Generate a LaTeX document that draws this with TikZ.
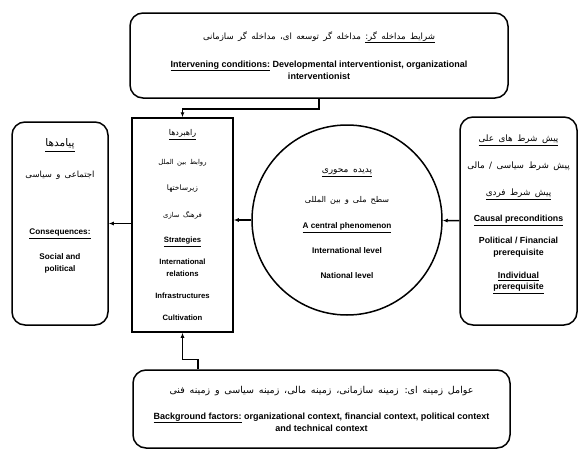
\documentclass[tikz,border=0pt]{standalone}
\usepackage{fontspec}
\setmainfont{Liberation Sans}
\newfontfamily\farsifont[Script=Arabic,WordSpace=1.6]{DejaVu Sans}
\TeXXeTstate=1
\newcommand{\fa}[2][6.5]{{\farsifont\mdseries\fontsize{#1}{11.5}\selectfont\beginR #2\endR}}
\usetikzlibrary{positioning,arrows.meta}

\begin{document}
\begin{tikzpicture}[x=1pt, y=1pt,
    box/.style={rectangle, rounded corners=13pt, draw, line width=1.5pt, align=center, font=\fontsize{8.8}{11.5}\selectfont\bfseries},
    stratbox/.style={rectangle, draw, line width=1.5pt, align=center, font=\fontsize{7.7}{11.5}\selectfont\bfseries},
    core/.style={circle, draw, line width=1.5pt, align=center, minimum size=190pt, font=\fontsize{8.2}{11.5}\selectfont\bfseries},
    arr/.style={-{Latex[length=5pt,width=4pt]}, line width=1.5pt}]

\useasboundingbox (0,0) rectangle (578,-450);

% Intervening conditions
\node[box, minimum width=378pt, minimum height=85pt, font=\fontsize{9}{12.5}\selectfont\bfseries] (cond) at (319,-55.5)
    {\fa[8.6]{\underline{\fa[8.6]{شرایط مداخله گر:}} مداخله گر توسعه ای، مداخله گر سازمانی}\\[15.5pt]
     \underline{Intervening conditions:} Developmental interventionist, organizational\\
     interventionist};

% Consequences and strategies
\node[box, minimum width=96pt, minimum height=203pt, font=\fontsize{8.2}{11.5}\selectfont\bfseries] (cons) at (60,-223.5)
    {\underline{\fa[10.5]{پیامدها}}\\[19.5pt]
     \fa[8.5]{اجتماعی و سیاسی}\\[45.5pt]
     \underline{Consequences:}\\[13.5pt]
     Social and\\political\\[25.5pt]\mbox{}};
\node[stratbox, minimum width=101pt, minimum height=214pt] (strat) at (182.5,-225)
    {\underline{\fa[8]{راهبردها}}\\[17.5pt]
     \fa[6.8]{روابط بین الملل}\\[14.5pt]
     \fa[7.5]{زیرساختها}\\[15.5pt]
     \fa[6.8]{فرهنگ سازی}\\[13.5pt]
     \underline{Strategies}\\[10.5pt]
     International\\relations\\[10.5pt]
     Infrastructures\\[10.5pt]
     Cultivation};

% Central phenomenon
\node[core] (phen) at (347,-220)
    {\mbox{}\\[0pt]
     \underline{\fa[9]{پدیده محوری}}\\[18.5pt]
     \fa[8]{سطح ملی و بین المللی}\\[14.5pt]
     \underline{A central phenomenon}\\[13.5pt]
     International level\\[13.5pt]
     National level};

% Causal preconditions
\node[box, minimum width=117pt, minimum height=208pt] (cause) at (518.5,-221)
    {\underline{\fa[8.8]{پیش شرط های علی}}\\[15.5pt]
     \fa[8.8]{پیش شرط سیاسی / مالی}\\[15.5pt]
     \underline{\fa[8.8]{پیش شرط فردی}}\\[14.5pt]
     \underline{Causal preconditions}\\[10.5pt]
     Political / Financial\\prerequisite\\[11.5pt]
     \underline{Individual}\\\underline{prerequisite}\\[5.5pt]\mbox{}};

% Background factors
\node[box, minimum width=377pt, minimum height=78pt, font=\fontsize{9}{12.5}\selectfont\bfseries] (back) at (321.5,-409)
    {\fa[9.5]{عوامل زمینه ای: زمینه سازمانی، زمینه مالی، زمینه سیاسی و زمینه فنی}\\[13.5pt]
     \underline{Background factors:} organizational context, financial context, political context\\
     and technical context};

% Connections
\draw[arr] (cond.south) -- ++(0,-10) -| (strat.north);
\draw[arr] ([xshift=-123.5pt]back.north) -- ++(0,10) -| (strat.south);
\draw[arr] (cause) -- (phen);
\draw[arr] (phen.west) -- (strat.east |- phen.west);
\draw[arr] (strat.west |- cons.east) -- (cons.east);

\end{tikzpicture}
\end{document}
